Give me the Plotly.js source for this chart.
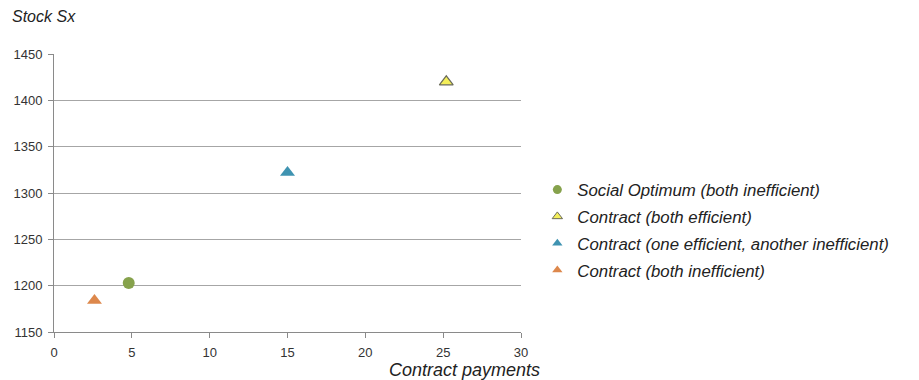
<!DOCTYPE html>
<html><head><meta charset="utf-8">
<script src="https://cdn.plot.ly/plotly-3.0.1.min.js"></script>
<style>html,body{margin:0;padding:0;background:#fff}#c{width:919px;height:380px}</style>
</head><body><div id="c"></div>
<script>
const seriesNames = ["Social Optimum (both inefficient)", "Contract (both efficient)", "Contract (one efficient, another inefficient)", "Contract (both inefficient)"];
const payments = [4.8, 25.2, 15.0, 2.6];
const stock = [1203, 1420, 1322, 1184];
const xTicks = [0, 5, 10, 15, 20, 25, 30];
const yTicks = [1150, 1200, 1250, 1300, 1350, 1400, 1450];

const symbols = ["circle", "triangle-up", "triangle-up", "triangle-up"];
const fills = ["#86a24c", "#f4ef5a", "#3f93b1", "#dd884c"];
const lines = ["#86a24c", "#6b6b5a", "#3f93b1", "#dd884c"];
const sizes = [12, 12, 13, 13];

const traces = [];
seriesNames.forEach((n, i) => {
  traces.push({x: [payments[i]], y: [stock[i]], type: "scatter", mode: "markers", name: n, showlegend: false,
    marker: {symbol: symbols[i], size: sizes[i], color: fills[i], line: {color: lines[i], width: i === 1 ? 1.2 : 0}}});
});
seriesNames.forEach((n, i) => {
  traces.push({x: [null], y: [null], type: "scatter", mode: "markers", name: n, legendgroup: "g" + i,
    marker: {symbol: symbols[i], size: 9, color: fills[i], line: {color: lines[i], width: i === 1 ? 1 : 0}}});
});

const layout = {
  width: 919, height: 380,
  margin: {l: 54, r: 398, t: 54, b: 48},
  paper_bgcolor: "#fff", plot_bgcolor: "#fff",
  font: {family: "Liberation Sans, Arial, sans-serif", color: "#333"},
  xaxis: {range: [0, 30], tickvals: xTicks, ticks: "outside", ticklen: 5, tickcolor: "#8a8a8a",
    showgrid: false, zeroline: false, showline: true, linecolor: "#8a8a8a", linewidth: 1,
    ticklabelstandoff: 3,
    tickfont: {size: 13, color: "#333"}, fixedrange: true},
  yaxis: {range: [1150, 1450], tickvals: yTicks, ticks: "outside", ticklen: 5, tickcolor: "#8a8a8a",
    showgrid: true, gridcolor: "#a6a6a6", gridwidth: 1, zeroline: false, showline: true, linecolor: "#8a8a8a",
    ticklabelstandoff: 3,
    linewidth: 1, tickfont: {size: 13, color: "#333"}, fixedrange: true},
  showlegend: true,
  legend: {x: 1.035, xanchor: "left", y: 0.575, yanchor: "top", traceorder: "grouped", tracegroupgap: 2,
    font: {size: 16.8, style: "italic", color: "#222", family: "Liberation Sans, Arial, sans-serif"},
    itemwidth: 30, borderwidth: 0, bgcolor: "rgba(0,0,0,0)"},
  annotations: [
    {text: "Stock Sx", xref: "paper", yref: "paper", x: -0.095, y: 1.135, xanchor: "left", yanchor: "middle",
      showarrow: false, font: {size: 16, style: "italic", color: "#222"}},
    {text: "Contract payments", xref: "paper", yref: "paper", x: 1.045, y: -0.138, xanchor: "right", yanchor: "middle",
      showarrow: false, font: {size: 18, style: "italic", color: "#222"}}
  ]
};
Plotly.newPlot("c", traces, layout, {displayModeBar: false, staticPlot: true});
</script></body></html>
